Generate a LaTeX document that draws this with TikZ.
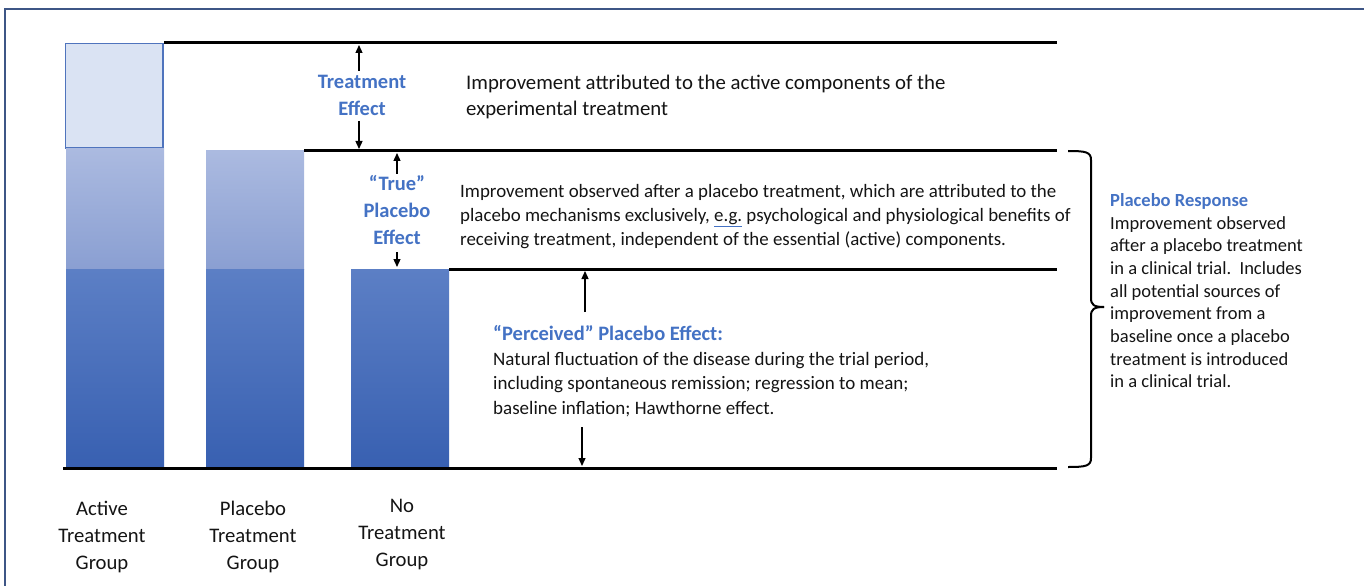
\documentclass[tikz,border=0pt]{standalone}
\usepackage{fontspec}
\setmainfont{Carlito}
\usetikzlibrary{arrows.meta}
\definecolor{lblblue}{HTML}{4472C4}
\definecolor{framec}{HTML}{3E5686}
\definecolor{lightbox}{HTML}{DAE3F3}
\definecolor{lightedge}{HTML}{4F74BD}
\definecolor{midtop}{HTML}{ABBAE0}
\definecolor{midbot}{HTML}{8A9FD2}
\definecolor{lowtop}{HTML}{5C7FC5}
\definecolor{lowbot}{HTML}{3860B1}
\definecolor{txt}{HTML}{141414}
\newcommand{\txtblk}[2]{\begin{tabular}[t]{@{}#1@{}}#2\end{tabular}}
\tikzset{
  level/.style={line width=3bp, black},
  dimarrow/.style={line width=1.3bp, -{Triangle[length=8bp,width=7bp]}},
  bluelbl/.style={inner sep=0pt, text=lblblue, font=\fontsize{20.5bp}{26.5bp}\selectfont\bfseries},
  desc/.style={inner sep=0pt, text=txt, font=\fontsize{18.9bp}{23.7bp}\selectfont},
  perc/.style={inner sep=0pt, text=txt, font=\fontsize{19bp}{24.3bp}\selectfont},
  topdesc/.style={inner sep=0pt, text=txt, font=\fontsize{20.8bp}{26bp}\selectfont},
  grouplbl/.style={inner sep=0pt, text=txt, font=\fontsize{20.7bp}{27bp}\selectfont},
  sidetxt/.style={inner sep=0pt, text=txt, font=\fontsize{18.5bp}{22.7bp}\selectfont},
}
\begin{document}
\begin{tikzpicture}[x=1bp,y=-1bp]
\useasboundingbox (0,0) rectangle (1364,586);
% frame
\draw[framec, line width=1.5bp] (5,586) -- (5,9) -- (1364,9);
% bars
\fill[lightbox] (65,43) rectangle (163,148);
\draw[lightedge, line width=1.4bp] (65.7,43.7) rectangle (163,148);
\shade[top color=midtop, bottom color=midbot] (66,149) rectangle (164,269);
\shade[top color=midtop, bottom color=midbot] (206,151) rectangle (304,269);
\shade[top color=lowtop, bottom color=lowbot] (66,269) rectangle (164,468);
\shade[top color=lowtop, bottom color=lowbot] (206,269) rectangle (304,468);
\shade[top color=lowtop, bottom color=lowbot] (351,269) rectangle (449,468);
% level lines
\coordinate (l1a) at (164,43);  \coordinate (l1b) at (1057,43);
\coordinate (l2a) at (304,151); \coordinate (l2b) at (1057,151);
\coordinate (l3a) at (449,269); \coordinate (l3b) at (1057,269);
\coordinate (l4a) at (63,468);  \coordinate (l4b) at (1057,468);
\draw[level] (l1a) -- (l1b);
\draw[level] (l2a) -- (l2b);
\draw[level] (l3a) -- (l3b);
\draw[level] (l4a) -- (l4b);
% treatment effect
\node[bluelbl, anchor=base] (te) at (362,89) {\txtblk{c}{Treatment\\Effect}};
\coordinate (te1) at (359,71);  \coordinate (te1t) at (359,45);
\coordinate (te2) at (359,121); \coordinate (te2t) at (359,149);
\draw[dimarrow] (te1) -- (te1t);
\draw[dimarrow] (te2) -- (te2t);
\node[topdesc, anchor=base west] (tdesc) at (466,90) {\txtblk{l}{Improvement attributed to the active components of the\\experimental treatment}};
% true placebo effect
\node[bluelbl, anchor=base] (tp) at (397,191) {\txtblk{c}{“True”\\Placebo\\Effect}};
\coordinate (tp1) at (397,174); \coordinate (tp1t) at (397,153);
\coordinate (tp2) at (397,252); \coordinate (tp2t) at (397,267);
\draw[dimarrow] (tp1) -- (tp1t);
\draw[dimarrow] (tp2) -- (tp2t);
\node[desc, anchor=base west] (pdesc) at (460,198) {\txtblk{l}{Improvement observed after a placebo treatment, which are attributed to the\\placebo mechanisms exclusively, \textcolor{lblblue}{\underline{\textcolor{txt}{e.g.}}} psychological and physiological benefits of\\receiving treatment, independent of the essential (active) components.}};
% perceived placebo effect
\coordinate (pp1) at (585,312); \coordinate (pp1t) at (585,271);
\coordinate (pp2) at (582,427); \coordinate (pp2t) at (582,466);
\draw[dimarrow] (pp1) -- (pp1t);
\draw[dimarrow] (pp2) -- (pp2t);
\node[bluelbl, anchor=base west] (pph) at (493,340) {“Perceived” Placebo Effect:};
\node[perc, anchor=base west] (ppdesc) at (493,365.5) {\txtblk{l}{Natural fluctuation of the disease during the trial period,\\including spontaneous remission; regression to mean;\\baseline inflation; Hawthorne effect.}};
% brace
\coordinate (brT) at (1068,151);
\coordinate (brM) at (1104,307);
\coordinate (brB) at (1068,467);
\draw[line width=2bp] (brT) .. controls (1086,151) and (1091,152) .. (1091,160) -- (1091,298) .. controls (1091,305) and (1094,307) .. (brM);
\draw[line width=2bp] (brM) .. controls (1094,307) and (1091,309) .. (1091,316) -- (1091,458) .. controls (1091,466) and (1086,467) .. (brB);
% placebo response
\node[inner sep=0pt, anchor=base west, text=lblblue, font=\fontsize{18.5bp}{22.7bp}\selectfont\bfseries] (prh) at (1110,206) {Placebo Response};
\node[sidetxt, anchor=base west] (prdesc) at (1110,229) {\txtblk{l}{Improvement observed\\after a placebo treatment\\in a clinical trial.\ \ Includes\\all potential sources of\\improvement from a\\baseline once a placebo\\treatment is introduced\\in a clinical trial.}};
% group labels
\node[grouplbl, anchor=base] (g1) at (102,515) {\txtblk{c}{Active\\Treatment\\Group}};
\node[grouplbl, anchor=base] (g2) at (253,515) {\txtblk{c}{Placebo\\Treatment\\Group}};
\node[grouplbl, anchor=base] (g3) at (402,512) {\txtblk{c}{No\\Treatment\\Group}};
\end{tikzpicture}
\end{document}
